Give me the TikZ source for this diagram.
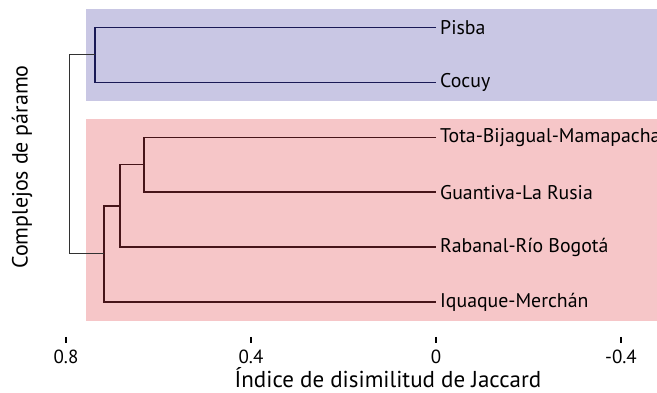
\documentclass[tikz,border=0pt]{standalone}
\usepackage{fontspec}
\setmainfont{PT Sans}
\usepackage{tikz}
\usetikzlibrary{calc,positioning}
\definecolor{bluebox}{RGB}{201,199,228}
\definecolor{redbox}{RGB}{246,198,200}
\definecolor{blueline}{RGB}{25,25,85}
\definecolor{redline}{RGB}{70,20,25}
\definecolor{rootline}{RGB}{50,50,50}
\tikzset{
    leaf/.style={
        anchor=west,
        inner sep=4pt,
        font={\fontsize{19.8pt}{22}\selectfont}
    },
    ticklabel/.style={
        font={\fontsize{19pt}{21}\selectfont}
    },
    axistitle/.style={
        inner sep=0pt,
        font={\fontsize{23pt}{25}\selectfont}
    },
    bluebranch/.style={draw=blueline, line width=1.4pt},
    redbranch/.style={draw=redline, line width=1.4pt},
    rootbranch/.style={draw=rootline, line width=1pt},
    tick/.style={draw=black, line width=2pt},
}

\begin{document}
\begin{tikzpicture}
[
    x=1pt, y=-1pt,
]
\useasboundingbox (0,0) rectangle (657,393);
% groups
\fill[bluebox] (86,9) rectangle (657,101);
\fill[redbox] (86,119) rectangle (657,321);

% leaves
\node[leaf](Pisba) at (436, 27.5){Pisba};
\node[leaf](Cocuy) at (436, 82.4){Cocuy};
\node[leaf](Tota) at (436, 137.3){Tota-Bijagual-Mamapacha};
\node[leaf](Guantiva) at (436, 192.2){Guantiva-La Rusia};
\node[leaf](Rabanal) at (436, 247.1){Rabanal-Río Bogotá};
\node[leaf](Iquaque) at (436, 302){Iquaque-Merchán};

% clusters
\coordinate(Boyaca) at (95, 55);
\coordinate(TG) at (144, 164.8);
\coordinate(TGR) at (120, 206);
\coordinate(Sur) at (104, 254);
\coordinate(Root) at (69, 0);

\draw[bluebranch] (Pisba.west) -| (Boyaca) |- (Cocuy.west);
\draw[redbranch] (Tota.west) -| (TG) |- (Guantiva.west);
\draw[redbranch] (TG) -| (TGR) |- (Rabanal.west);
\draw[redbranch] (TGR) -| (Sur) |- (Iquaque.west);
\draw[rootbranch] (Boyaca) -| (Root |- Boyaca) |- (Sur);

% axis
\foreach \v/\x in {0.8/66, 0.4/251, 0/436, -0.4/621}{
    \node[ticklabel](t\x) at (\x, 357){\v};
    \draw[tick] (\x, 337) -- (\x, 343);
}
\node[axistitle, anchor=base](xlab) at (388, 387.5){Índice de disimilitud de Jaccard};
\node[axistitle, rotate=90, font={\fontsize{22pt}{24}\selectfont}](ylab) at (22, 167){Complejos de páramo};
\end{tikzpicture}
\end{document}
